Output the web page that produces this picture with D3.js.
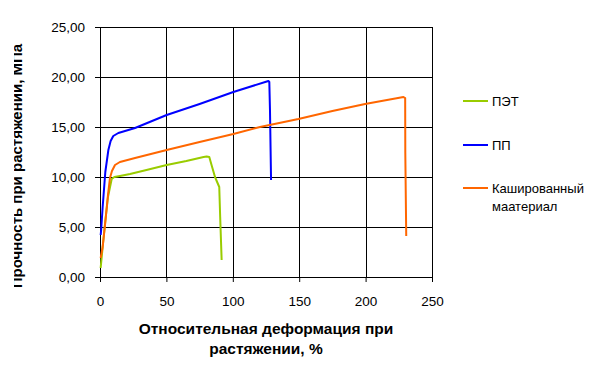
<!DOCTYPE html>
<html>
<head>
<meta charset="utf-8">
<script src="https://cdn.jsdelivr.net/npm/d3@7"></script>
<style>
  body { margin: 0; background: #fff; }
  text { font-family: "Liberation Sans", Arial, sans-serif; fill: #000; }
</style>
</head>
<body>
<svg id="chart" width="612" height="377"></svg>
<script>
// strain, % / stress, MPa
var petStrain = [0.5, 2, 4, 6, 8.8, 10.8, 15, 22.6, 35, 50.2, 65, 78, 80.3, 82.3, 84, 86.6, 89.8, 90.5, 91.6];
var petStress = [0.9, 3.0, 5.6, 8.0, 9.8, 10.0, 10.1, 10.3, 10.7, 11.2, 11.6, 12.0, 12.05, 12.0, 11.2, 10.0, 9.0, 6.0, 1.7];

var ppStrain = [0.5, 0.8, 2, 4, 6.3, 8, 10, 13.8, 26.4, 50.2, 75, 100.4, 126.8, 127.5, 128, 128.8];
var ppStress = [4.2, 4.6, 7.0, 10.5, 12.7, 13.6, 14.1, 14.4, 14.9, 16.2, 17.3, 18.5, 19.6, 19.5, 16.7, 9.7];

var kmStrain = [0.5, 2, 4, 6, 7.5, 9, 11.3, 15, 26.4, 50.2, 75, 100.4, 120.5, 149.4, 175, 199.6, 228.5, 229.8, 229.9, 230.6];
var kmStress = [1.9, 3.0, 5.5, 8.2, 9.9, 10.6, 11.2, 11.5, 11.9, 12.7, 13.5, 14.3, 15.0, 15.8, 16.6, 17.3, 18.0, 17.9, 12.4, 4.1];

var seriesNames = ["ПЭТ", "ПП", "Кашированный маатериал"];
var seriesColors = ["#99cc00", "#0000ff", "#ff6600"];
var xTicks = [0, 50, 100, 150, 200, 250];
var yTicks = [0, 5, 10, 15, 20, 25];

var margin = { top: 27, right: 180, bottom: 100, left: 100 },
  width = 432 - margin.left,
  height = 277 - margin.top;

var svg = d3.select("#chart");
var g = svg.append("g")
  .attr("transform", "translate(" + margin.left + "," + margin.top + ")");

var x = d3.scaleLinear().domain([0, 250]).range([0, width]);
var y = d3.scaleLinear().domain([0, 25]).range([height, 0]);

// grid
g.selectAll(".hgrid").data(yTicks).enter().append("line")
  .attr("x1", 0).attr("x2", width)
  .attr("y1", function (d) { return Math.round(y(d)) + 0.5; })
  .attr("y2", function (d) { return Math.round(y(d)) + 0.5; })
  .attr("stroke", "#000").attr("stroke-width", 1);
g.selectAll(".vgrid").data(xTicks).enter().append("line")
  .attr("y1", 0).attr("y2", height)
  .attr("x1", function (d) { return Math.round(x(d)) + 0.5; })
  .attr("x2", function (d) { return Math.round(x(d)) + 0.5; })
  .attr("stroke", "#000").attr("stroke-width", 1);

// axes
var fmt = function (d) { return d3.format(".2f")(d).replace(".", ","); };
var yAxis = g.append("g")
  .call(d3.axisLeft(y).tickValues(yTicks).tickFormat(fmt).tickSizeOuter(0).tickSize(5).tickPadding(10));
var xAxis = g.append("g")
  .attr("transform", "translate(0," + height + ")")
  .call(d3.axisBottom(x).tickValues(xTicks).tickSizeOuter(0).tickSize(5).tickPadding(14));
[xAxis, yAxis].forEach(function (a) {
  a.select(".domain").remove();
  a.selectAll("line").attr("stroke", "#000");
  a.selectAll("text")
    .style("font-family", "'Liberation Sans', Arial, sans-serif")
    .style("font-size", "13.5px").attr("fill", "#222");
});

// series
var series = [
  { s: petStrain, v: petStress },
  { s: ppStrain, v: ppStress },
  { s: kmStrain, v: kmStress }
];
var line = d3.line()
  .x(function (d) { return x(d[0]); })
  .y(function (d) { return y(d[1]); });

series.forEach(function (ser, i) {
  var pts = d3.zip(ser.s, ser.v);
  g.append("path")
    .datum(pts)
    .attr("fill", "none")
    .attr("stroke", seriesColors[i])
    .attr("stroke-width", 2)
    .attr("stroke-linejoin", "round")
    .attr("d", line);
});

// axis titles
svg.append("text")
  .attr("x", 266).attr("y", 334)
  .attr("text-anchor", "middle")
  .style("font-size", "15.5px").style("font-weight", "bold")
  .text("Относительная деформация при");
svg.append("text")
  .attr("x", 266).attr("y", 354)
  .attr("text-anchor", "middle")
  .style("font-size", "15.5px").style("font-weight", "bold")
  .text("растяжении, %");

// y title is cut by the chart area in the original
svg.append("clipPath").attr("id", "ylabClip")
  .append("rect").attr("x", 14).attr("y", 0).attr("width", 40).attr("height", 287);
svg.append("g")
  .attr("clip-path", "url(#ylabClip)")
  .append("text")
  .attr("transform", "translate(22,166) rotate(-90)")
  .attr("text-anchor", "middle")
  .style("font-size", "15px").style("font-weight", "bold")
  .text("Прочность при растяжении, МПа");

// legend
var legendY = [101, 145, 188];
seriesNames.forEach(function (name, i) {
  svg.append("line")
    .attr("x1", 463).attr("x2", 488)
    .attr("y1", legendY[i]).attr("y2", legendY[i])
    .attr("stroke", seriesColors[i]).attr("stroke-width", 2);
  var words = name.split(" ");
  words.forEach(function (w, j) {
    svg.append("text")
      .attr("x", 492).attr("y", legendY[i] + 5 + j * 18)
      .style("font-size", "13px").attr("fill", "#222")
      .text(w);
  });
});
</script>
</body>
</html>
